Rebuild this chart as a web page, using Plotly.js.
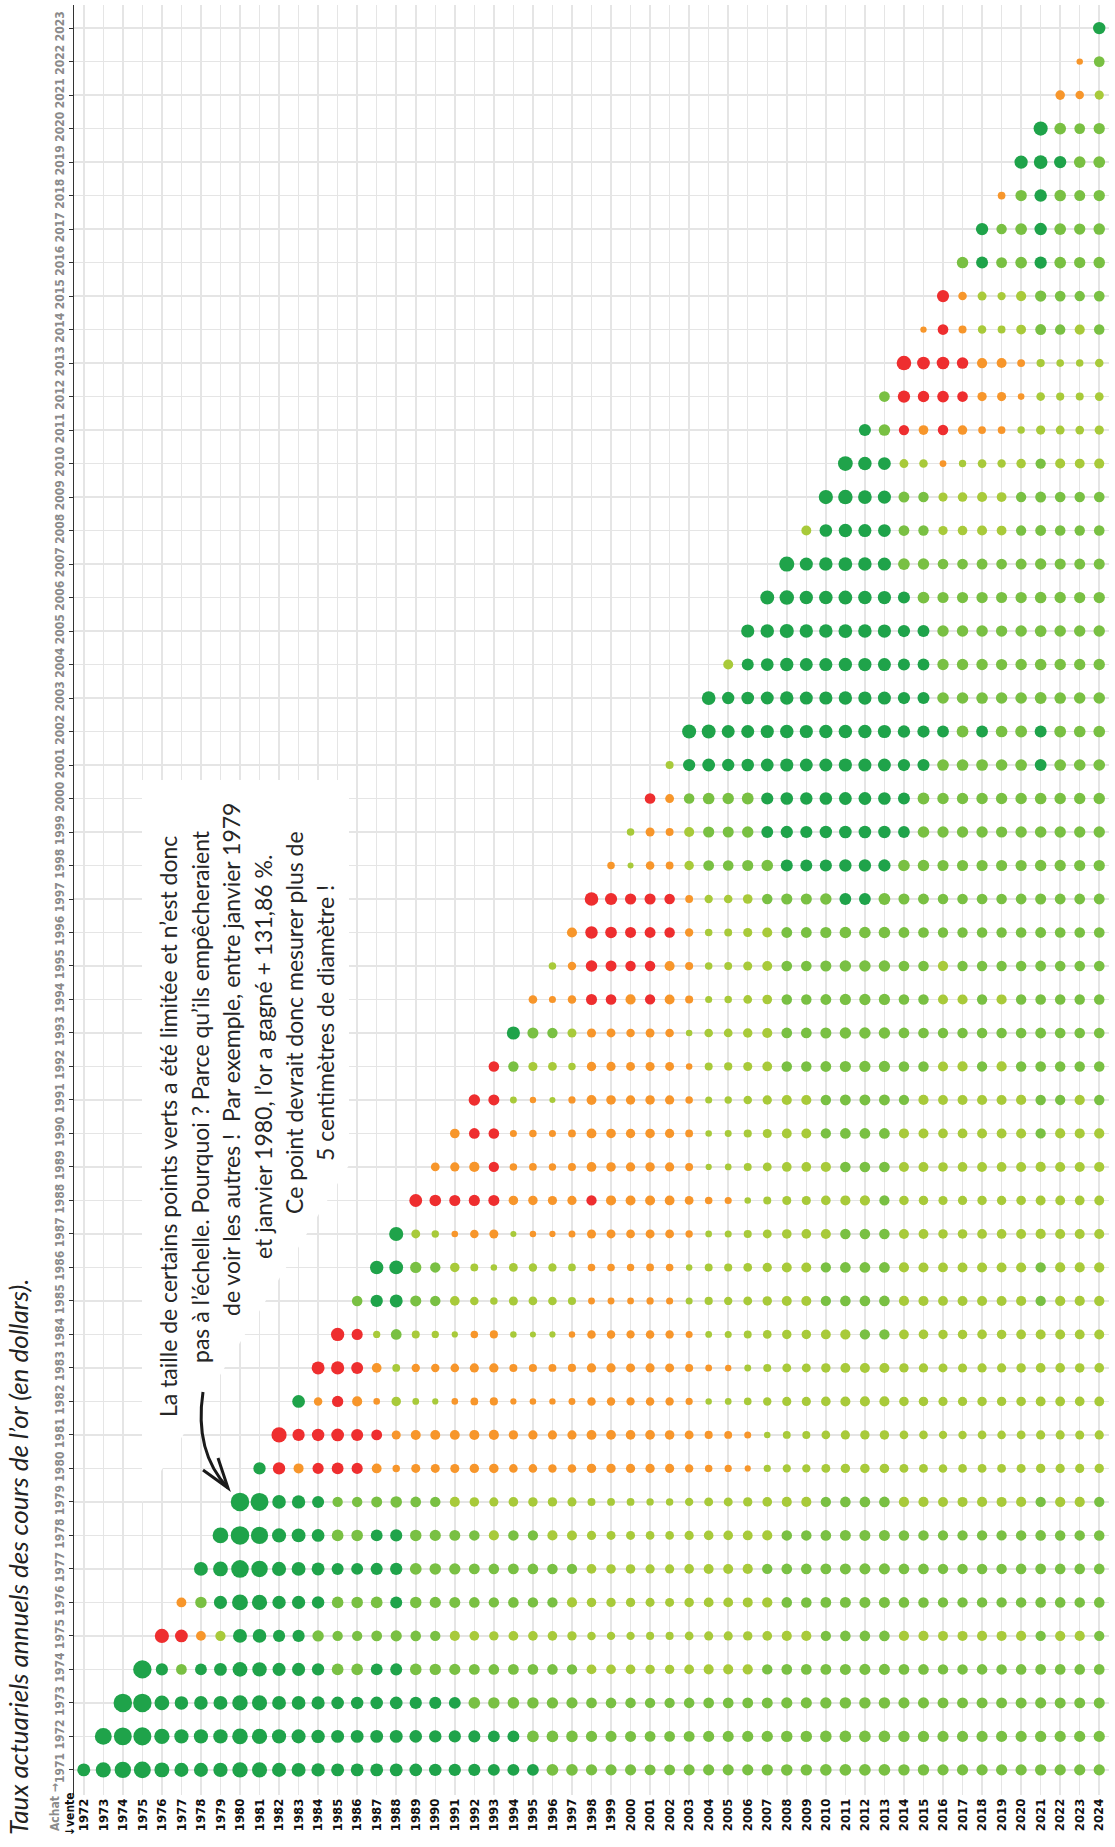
<!DOCTYPE html>
<html>
<head>
<meta charset="utf-8">
<script src="https://cdn.plot.ly/plotly-3.0.1.min.js"></script>
<style>
html,body{margin:0;padding:0;background:#fff;}
#chart{width:1115px;height:1847px;}
</style>
</head>
<body>
<div id="chart"></div>
<script>
// ---- DATA -------------------------------------------------------------
// Years (price at the start of January of each year = close of previous year)
const years = [1971,1972,1973,1974,1975,1976,1977,1978,1979,1980,
  1981,1982,1983,1984,1985,1986,1987,1988,1989,1990,
  1991,1992,1993,1994,1995,1996,1997,1998,1999,2000,
  2001,2002,2003,2004,2005,2006,2007,2008,2009,2010,
  2011,2012,2013,2014,2015,2016,2017,2018,2019,2020,
  2021,2022,2023,2024];
// Gold price in USD per ounce at the start of each year
const goldPrice = [37.38,43.50,64.70,112.25,186.50,140.25,134.50,164.95,226.00,524.00,
  589.75,397.50,456.90,382.40,309.00,327.00,390.90,486.50,410.15,401.00,
  386.20,353.15,333.00,391.75,383.25,387.00,369.25,290.20,287.45,290.25,
  272.65,276.50,342.75,417.25,435.60,513.00,632.00,833.75,869.75,1087.50,
  1405.50,1565.00,1664.00,1201.50,1199.25,1060.20,1151.70,1296.50,1281.65,1523.10,
  1895.10,1828.60,1824.32,2062.98];
// Purchase years (vertical axis) and sale years (horizontal axis)
const purchaseYears = [1971,1972,1973,1974,1975,1976,1977,1978,1979,1980,
  1981,1982,1983,1984,1985,1986,1987,1988,1989,1990,
  1991,1992,1993,1994,1995,1996,1997,1998,1999,2000,
  2001,2002,2003,2004,2005,2006,2007,2008,2009,2010,
  2011,2012,2013,2014,2015,2016,2017,2018,2019,2020,
  2021,2022,2023];
const saleYears = [1972,1973,1974,1975,1976,1977,1978,1979,1980,
  1981,1982,1983,1984,1985,1986,1987,1988,1989,1990,
  1991,1992,1993,1994,1995,1996,1997,1998,1999,2000,
  2001,2002,2003,2004,2005,2006,2007,2008,2009,2010,
  2011,2012,2013,2014,2015,2016,2017,2018,2019,2020,
  2021,2022,2023,2024];
const purchaseLabels = purchaseYears.map(String);
const saleLabels = saleYears.map(String);

// Rate classes (annual actuarial rate, %)
const bandNames  = ['< -5 %', '-5 % à 0 %', '0 % à 5 %', '5 % à 10 %', '> 10 %'];
const bandUpper  = [-5, 0, 5, 10, Infinity];
const bandColors = ['#ee2e2f', '#f7962b', '#a8ca3a', '#79c043', '#1fa34a'];

// ---- BUILD ------------------------------------------------------------
const priceOf = {};
years.forEach((y, i) => { priceOf[y] = goldPrice[i]; });

function dotSize(rPct) {
  const a = Math.abs(rPct);
  const d = 6 + 2.6 * Math.log(1 + a / 1.2) + 0.04 * Math.max(0, a - 20);
  return Math.min(18.5, d);
}

const bands = bandNames.map(() => ({x: [], y: [], s: [], t: []}));
purchaseYears.forEach(p => {
  saleYears.forEach(s => {
    if (s <= p) return;
    const r = (Math.pow(priceOf[s] / priceOf[p], 1 / (s - p)) - 1) * 100;
    let b = 0;
    while (r >= bandUpper[b]) b++;
    bands[b].x.push(s);
    bands[b].y.push(p);
    bands[b].s.push(dotSize(r));
    bands[b].t.push(r.toFixed(2) + ' %');
  });
});

const traces = bands.map((b, i) => ({
  type: 'scatter',
  mode: 'markers',
  name: bandNames[i],
  x: b.x, y: b.y, text: b.t,
  marker: {size: b.s, color: bandColors[i], line: {width: 0}, opacity: 1},
  hoverinfo: 'skip',
  showlegend: false
}));

// ---- LAYOUT -----------------------------------------------------------
const W = 1115, H = 1847;
const M = {l: 74, r: 6, t: 5, b: 52};
const PW = W - M.l - M.r, PH = H - M.t - M.b;
const xp = X => (X - M.l) / PW;          // pixel -> paper
const yp = Y => (H - M.b - Y) / PH;

const bodyFont = "Lato, 'Open Sans', 'Noto Sans', sans-serif";
const condFont = "'Liberation Sans Narrow', 'DejaVu Sans Condensed', 'Roboto', sans-serif";

const noteLines = [
  {t: 'La taille de certains points verts a été limitée et n’est donc', x: 168, y: 1127},
  {t: 'pas à l’échelle. Pourquoi ? Parce qu’ils empêcheraient',          x: 200, y: 1097},
  {t: 'de voir les autres !\u00a0 Par exemple, entre janvier 1979',      x: 231, y: 1060},
  {t: 'et janvier 1980, l’or a gagné + 131,86 %.',                        x: 263, y: 1057},
  {t: 'Ce point devrait donc mesurer plus de',                            x: 294, y: 1023},
  {t: '5 centimètres de diamètre !',                                      x: 325, y: 1023}
];

const annotations = noteLines.map(l => ({
  xref: 'paper', yref: 'paper', x: xp(l.x), y: yp(l.y),
  xanchor: 'center', yanchor: 'middle', textangle: -90,
  showarrow: false, text: l.t,
  font: {family: bodyFont, size: 23, color: '#262626'}
}));

annotations.push({
  xref: 'paper', yref: 'paper', x: xp(18), y: yp(1557),
  xanchor: 'center', yanchor: 'middle', textangle: -90, showarrow: false,
  text: 'Taux actuariels annuels des cours de l’or (en dollars).',
  font: {family: bodyFont, size: 26, color: '#222', style: 'italic'}
});
annotations.push({
  xref: 'paper', yref: 'paper', x: xp(55), y: yp(1807),
  xanchor: 'center', yanchor: 'middle', textangle: -90, showarrow: false,
  text: 'Achat →',
  font: {family: condFont, size: 12, color: '#8a8a8a', weight: 700}
});
annotations.push({
  xref: 'paper', yref: 'paper', x: xp(70), y: yp(1814),
  xanchor: 'center', yanchor: 'middle', textangle: -90, showarrow: false,
  text: '↓vente',
  font: {family: condFont, size: 12, color: '#111', weight: 700}
});

function pathPx(cmds) {
  return cmds.map(c => c[0] + (c.length > 1 ? ' ' + c.slice(1).map((v, k) => k % 2 === 0 ? xp(v).toFixed(5) : yp(v).toFixed(5)).join(' ') : '')).join(' ');
}

const shapes = [
  { // white background behind the note
    type: 'path', xref: 'paper', yref: 'paper', layer: 'above',
    path: pathPx([['M', 142, 780], ['L', 349, 780], ['L', 349, 1165], ['L', 142, 1502], ['Z']]),
    fillcolor: '#ffffff', line: {width: 0}
  },
  { // hand-drawn arrow pointing at the 1979 -> 1980 dot
    type: 'path', xref: 'paper', yref: 'paper', layer: 'above',
    path: pathPx([['M', 203, 1392], ['Q', 194, 1452, 228, 1488]]),
    line: {color: '#1a1a1a', width: 3}
  },
  {
    type: 'path', xref: 'paper', yref: 'paper', layer: 'above',
    path: pathPx([['M', 218, 1458], ['L', 228, 1488], ['L', 203, 1470]]),
    line: {color: '#1a1a1a', width: 3}
  }
];

const layout = {
  width: W, height: H,
  margin: M,
  paper_bgcolor: '#ffffff', plot_bgcolor: '#ffffff',
  showlegend: false,
  xaxis: {
    range: [1971.5, 2024.5], tickmode: 'array',
    tickvals: saleYears, ticktext: saleLabels, tickangle: -90,
    tickfont: {family: condFont, size: 13, color: '#111', weight: 700},
    showgrid: true, gridcolor: '#e5e5e5', gridwidth: 1.5,
    zeroline: false, showline: false, ticks: '', fixedrange: true
  },
  yaxis: {
    range: [1970.25, 2023.69], tickmode: 'array',
    tickvals: purchaseYears, ticktext: purchaseLabels, tickangle: -90,
    tickfont: {family: condFont, size: 12, color: '#8a8a8a', weight: 700},
    showgrid: true, gridcolor: '#e5e5e5', gridwidth: 1.5,
    zeroline: false, showline: true, linecolor: '#333', linewidth: 1.5,
    ticks: 'outside', ticklen: 4, tickcolor: '#333', tickwidth: 1,
    fixedrange: true
  },
  annotations: annotations,
  shapes: shapes
};

Plotly.newPlot('chart', traces, layout, {staticPlot: true, displayModeBar: false});
</script>
</body>
</html>
